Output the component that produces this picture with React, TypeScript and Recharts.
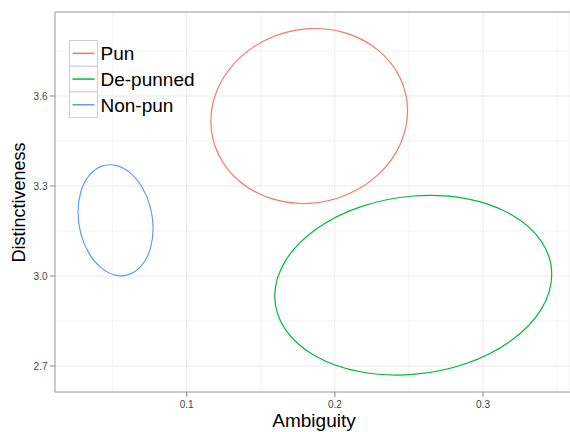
import React from 'react';
import { LineChart, Line, XAxis, YAxis, CartesianGrid, ReferenceLine, Legend } from 'recharts';

// Series (legend order) and colours
const seriesNames = ['Pun', 'De-punned', 'Non-pun'];
const seriesColors = ['#F8766D', '#00BA38', '#619CFF'];

// Ellipse outline points (Ambiguity, Distinctiveness)
const punPoints = [
  { x: 0.2508, y: 3.551 }, { x: 0.2456, y: 3.664 }, { x: 0.2308, y: 3.757 }, { x: 0.2087, y: 3.8161 },
  { x: 0.1827, y: 3.832 }, { x: 0.1567, y: 3.8026 }, { x: 0.1346, y: 3.7321 }, { x: 0.1198, y: 3.6313 },
  { x: 0.1146, y: 3.5157 }, { x: 0.1198, y: 3.4027 }, { x: 0.1346, y: 3.3096 }, { x: 0.1567, y: 3.2505 },
  { x: 0.1827, y: 3.2346 }, { x: 0.2087, y: 3.264 }, { x: 0.2308, y: 3.3345 }, { x: 0.2456, y: 3.4353 },
];
const depunnedPoints = [
  { x: 0.3488, y: 3.0063 }, { x: 0.3415, y: 3.1203 }, { x: 0.3207, y: 3.2112 }, { x: 0.2896, y: 3.2653 },
  { x: 0.2529, y: 3.2743 }, { x: 0.2162, y: 3.237 }, { x: 0.1851, y: 3.1588 }, { x: 0.1643, y: 3.0518 },
  { x: 0.157, y: 2.9323 }, { x: 0.1643, y: 2.8183 }, { x: 0.1851, y: 2.7274 }, { x: 0.2162, y: 2.6733 },
  { x: 0.2529, y: 2.6643 }, { x: 0.2896, y: 2.7017 }, { x: 0.3207, y: 2.7798 }, { x: 0.3415, y: 2.8868 },
];
const nonpunPoints = [
  { x: 0.078, y: 3.1579 }, { x: 0.076, y: 3.2319 }, { x: 0.0704, y: 3.2988 }, { x: 0.0619, y: 3.3486 },
  { x: 0.052, y: 3.3735 }, { x: 0.0421, y: 3.3699 }, { x: 0.0336, y: 3.3382 }, { x: 0.028, y: 3.2833 },
  { x: 0.026, y: 3.2135 }, { x: 0.028, y: 3.1395 }, { x: 0.0336, y: 3.0726 }, { x: 0.0421, y: 3.0228 },
  { x: 0.052, y: 2.9979 }, { x: 0.0619, y: 3.0015 }, { x: 0.0704, y: 3.0332 }, { x: 0.076, y: 3.0881 },
];
const seriesData = [punPoints, depunnedPoints, nonpunPoints];

// Axis ticks
const xTicks = [0.1, 0.2, 0.3];
const yTicks = [2.7, 3.0, 3.3, 3.6];
const xMinorTicks = [0.05, 0.15, 0.25, 0.35];
const yMinorTicks = [2.85, 3.15, 3.45, 3.75];
const xDomain: [number, number] = [0.01113, 0.3587];
const yDomain: [number, number] = [2.6133, 3.88];

const FONT = '"Liberation Sans", Arial, Helvetica, sans-serif';
const ROW = 25.7;

function LegendContent(props: any) {
  const payload = [...(props.payload || [])].sort(
    (a: any, b: any) => seriesNames.indexOf(a.value) - seriesNames.indexOf(b.value)
  );
  return (
    <svg width={150} height={ROW * 3 + 2} style={{ display: 'block', overflow: 'visible' }}>
      {payload.map((e: any, i: number) => {
        const top = 0.5 + i * ROW;
        const color = seriesColors[seriesNames.indexOf(e.value)] || e.color;
        return (
          <g key={e.value}>
            <rect x={0.5} y={top} width={28} height={ROW} fill="#fff" stroke="#cfcfcf" strokeWidth={1} />
            <line x1={3.5} x2={25.5} y1={top + ROW / 2} y2={top + ROW / 2} stroke={color} strokeWidth={1.5} />
            <text x={31.5} y={top + ROW / 2 + 6.8} fontSize={19} fill="#000" fontFamily={FONT}>
              {e.value}
            </text>
          </g>
        );
      })}
    </svg>
  );
}

const XLabel = (props: any) => {
  const vb = props.viewBox || {};
  return (
    <text x={vb.x + vb.width / 2 + 1.5} y={vb.y + 35} textAnchor="middle" fontSize={19} fill="#000" fontFamily={FONT}>
      Ambiguity
    </text>
  );
};

const YLabel = (props: any) => {
  const vb = props.viewBox || {};
  const cx = vb.x + 25;
  const cy = vb.y + vb.height / 2 + 0.5;
  return (
    <text transform={`translate(${cx}, ${cy}) rotate(-90)`} textAnchor="middle" fontSize={18} fill="#000" fontFamily={FONT}>
      Distinctiveness
    </text>
  );
};

export default function App() {
  return (
    <div style={{ position: 'absolute', left: 0, top: 0, width: 570, height: 432, background: '#fff', fontFamily: FONT }}>
      <LineChart width={570} height={432} margin={{ top: 12, right: 0, bottom: 0, left: 0 }}>
        {xMinorTicks.map((v) => (
          <ReferenceLine key={'xm' + v} x={v} stroke="#f5f5f5" strokeWidth={1} />
        ))}
        {yMinorTicks.map((v) => (
          <ReferenceLine key={'ym' + v} y={v} stroke="#f5f5f5" strokeWidth={1} />
        ))}
        <CartesianGrid stroke="#ebebeb" strokeWidth={1} />
        <XAxis
          type="number"
          dataKey="x"
          domain={xDomain}
          allowDataOverflow
          ticks={xTicks}
          tickFormatter={(v: number) => v.toFixed(1)}
          tick={{ fill: '#444', fontSize: 10 }}
          tickLine={{ stroke: '#888' }}
          axisLine={{ stroke: '#a0a0a0' }}
          tickSize={5}
          tickMargin={4}
          height={40}
          label={XLabel}
        />
        <YAxis
          type="number"
          domain={yDomain}
          allowDataOverflow
          ticks={yTicks}
          tickFormatter={(v: number) => v.toFixed(1)}
          tick={{ fill: '#444', fontSize: 10 }}
          tickLine={{ stroke: '#888' }}
          axisLine={{ stroke: '#a0a0a0' }}
          tickSize={5}
          tickMargin={2.5}
          width={55}
          label={YLabel}
        />
        <ReferenceLine y={yDomain[1]} stroke="#a0a0a0" strokeWidth={1} />
        {seriesNames.map((name, i) => (
          <Line
            key={name}
            name={name}
            data={seriesData[i]}
            dataKey="y"
            type="basisClosed"
            stroke={seriesColors[i]}
            strokeWidth={1.2}
            dot={false}
            activeDot={false}
            isAnimationActive={false}
          />
        ))}
        <Legend
          layout="vertical"
          align="center"
          verticalAlign="middle"
          content={LegendContent}
          wrapperStyle={{ left: 68.5, top: 39.5, width: 150, height: 80 }}
        />
      </LineChart>
    </div>
  );
}
